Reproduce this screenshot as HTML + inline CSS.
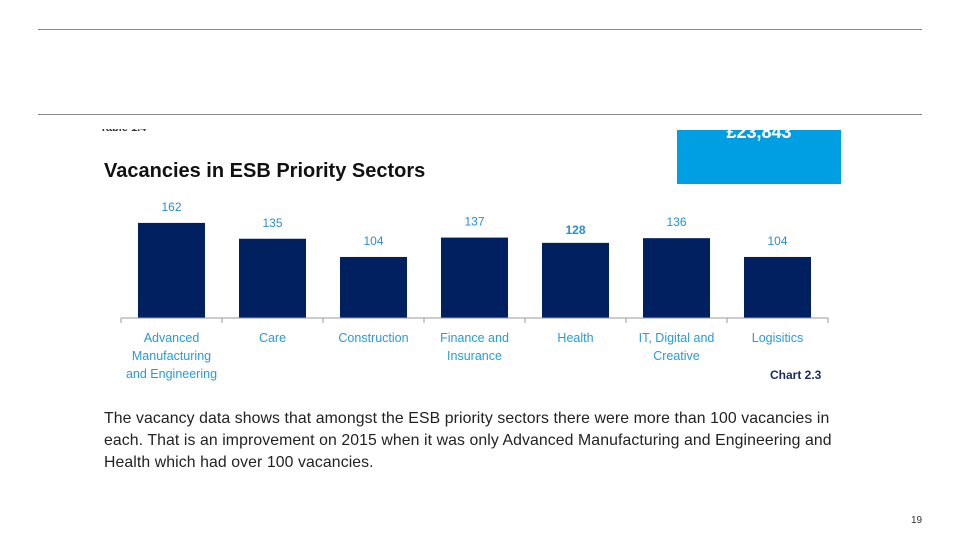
<!DOCTYPE html>
<html><head><meta charset="utf-8"><style>
body{margin:0;width:960px;height:540px;background:#fff;position:relative;overflow:hidden;font-family:"Liberation Sans",sans-serif}
.abs{position:absolute}
.line{position:absolute;left:38px;width:884px;height:1px;background:#888}
.clip{position:absolute;left:0;top:129px;width:960px;height:411px;overflow:hidden}
</style></head><body>
<div class="line" style="top:29px"></div>
<div class="line" style="top:114px"></div>
<div class="clip">
  <div class="abs" style="left:100px;top:-7px;font-size:11px;font-weight:bold;color:#333">Table 1.4</div>
  <div class="abs" style="left:677px;top:1px;width:164px;height:54px;background:#009fe3">
    <div style="position:absolute;top:-8px;width:100%;text-align:center;color:#fff;font-weight:bold;font-size:18px">£23,843</div>
  </div>
</div>
<div class="abs" style="left:104px;top:160px;font-size:20px;font-weight:bold;color:#111">Vacancies in ESB Priority Sectors</div>
<svg class="abs" style="left:0;top:0" width="960" height="540" id="chart"></svg>
<div class="abs" style="left:770px;top:368px;font-size:12px;font-weight:bold;color:#1a2a5a">Chart 2.3</div>
<div class="abs" style="left:104px;top:408px;width:760px;font-size:15.8px;letter-spacing:0.1px;line-height:22px;color:#222">The vacancy data shows that amongst the ESB priority sectors there were more than 100 vacancies in<br>each. That is an improvement on 2015 when it was only Advanced Manufacturing and Engineering and<br>Health which had over 100 vacancies.</div>
<div class="abs" style="left:911px;top:515px;font-size:10px;color:#333">19</div>
<script>
const categories=[["Advanced","Manufacturing","and Engineering"],["Care"],["Construction"],["Finance and","Insurance"],["Health"],["IT, Digital and","Creative"],["Logisitics"]];
const values=[162,135,104,137,128,136,104];
const NS="http://www.w3.org/2000/svg";
const svg=document.getElementById('chart');
const x0=121,bw=101,base=318,scale=0.587;
const xPos=i=>x0+i*bw;
const yPos=v=>base-v*scale;
function mk(t,a){const e=document.createElementNS(NS,t);for(const k in a)e.setAttribute(k,a[k]);svg.appendChild(e);return e;}
values.forEach((v,i)=>{
  const r=mk('rect',{x:xPos(i)+17,y:yPos(v),width:67,height:base-yPos(v),fill:'#012060'});
  
  
  const t=mk('text',{x:xPos(i)+50.5,y:yPos(v)-(i==4?9:12),'text-anchor':'middle','font-size':12,fill:'#2a8fc8','font-family':'Liberation Sans, sans-serif','font-weight':i==4?'bold':'normal'});
  t.textContent=v;
  
  
  categories[i].forEach((l,j)=>{
    const c=mk('text',{x:xPos(i)+50.5,y:342+j*18,'text-anchor':'middle','font-size':12.5,fill:'#2a9ad6','font-family':'Liberation Sans, sans-serif'});
    c.textContent=l;
    
    
  });
});
const ax=mk('line',{x1:x0,x2:x0+bw*values.length,y1:base,y2:base,stroke:'#999','stroke-width':1});


for(let i=0;i<=values.length;i++){
  const tk=mk('line',{x1:xPos(i),x2:xPos(i),y1:base,y2:base+5,stroke:'#999'});
  
  
}
</script>
</body></html>
